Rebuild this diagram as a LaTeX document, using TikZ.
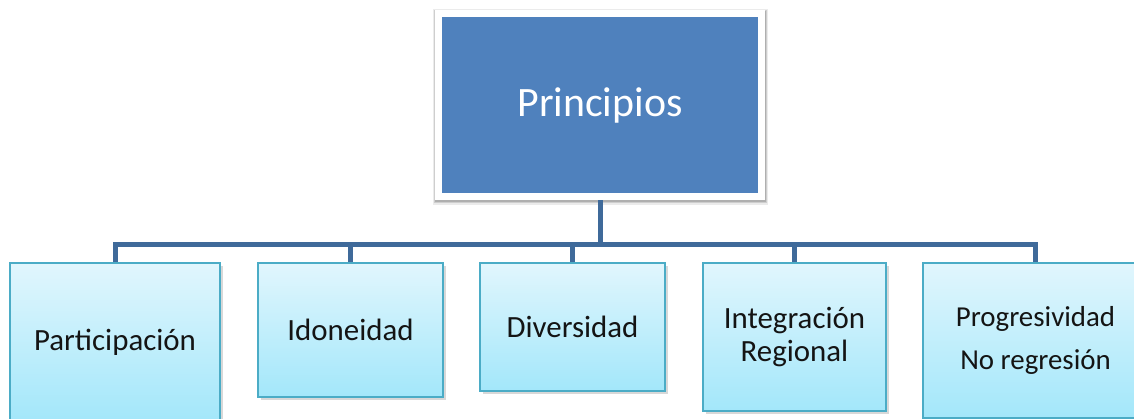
\documentclass[tikz,border=0pt]{standalone}
\usepackage{fontspec}
\setmainfont{Carlito}
\usetikzlibrary{shadows,backgrounds}
\definecolor{topblue}{HTML}{4F81BD}
\definecolor{conncol}{HTML}{3F6A9A}
\definecolor{boxedge}{HTML}{4BACC6}
\definecolor{boxtop}{HTML}{E1F6FD}
\definecolor{boxbot}{HTML}{A3E7FA}
\definecolor{txt}{HTML}{141414}
\begin{document}
\begin{tikzpicture}[x=1bp,y=-1bp,
  topbox/.style={draw=white, line width=7bp, fill=topblue, minimum width=323bp,
    minimum height=183bp, text=white, font=\fontsize{42}{46}\selectfont},
  shadowfill/.style={fill=black, opacity=#1},
  childbox/.style={draw=boxedge, line width=1.8bp, top color=boxtop, bottom color=boxbot,
    text=txt, align=center, inner sep=0pt, font=\fontsize{31}{34}\selectfont,
    drop shadow={shadow xshift=2.5bp, shadow yshift=-3bp, opacity=0.3}},
  conn/.style={draw=conncol, line width=5bp}]
\useasboundingbox (0,0) rectangle (1134,418);

\node[topbox] (top) at (600,105) {Principios};
\coordinate (bus) at (600,244);

\begin{scope}[on background layer]
\fill[white] (0,0) rectangle (1134,418);
\fill[shadowfill=0.08] ([shift={(-2,-1.5)}]top.north west) rectangle ([shift={(3,4.5)}]top.south east);
\fill[shadowfill=0.12] ([shift={(-1,-0.5)}]top.north west) rectangle ([shift={(2,3)}]top.south east);
\fill[shadowfill=0.15] ([shift={(0,0.5)}]top.north west) rectangle ([shift={(1,1.8)}]top.south east);
\end{scope}

\node[childbox, minimum width=210bp, minimum height=158bp] (c1) at (115,342) {Participación};
\node[childbox, minimum width=185bp, minimum height=134bp] (c2) at (350.5,330) {Idoneidad};
\node[childbox, minimum width=185bp, minimum height=128bp] (c3) at (572.5,327) {Diversidad};
\node[childbox, minimum width=183bp, minimum height=148bp] (c4) at (794.5,337) {Integración\\Regional};
\node[childbox, minimum width=225bp, minimum height=155bp, font=\fontsize{29}{44}\selectfont] (c5) at (1035.5,340.5) {Progresividad\\No regresión};

\draw[conn] (top.south) -- (bus);
\draw[conn] (c1.north) -- (c1.north |- bus) -- (c5.north |- bus) -- (c5.north);
\draw[conn] (c2.north) -- (c2.north |- bus);
\draw[conn] (c3.north) -- (c3.north |- bus);
\draw[conn] (c4.north) -- (c4.north |- bus);
\end{tikzpicture}
\end{document}
